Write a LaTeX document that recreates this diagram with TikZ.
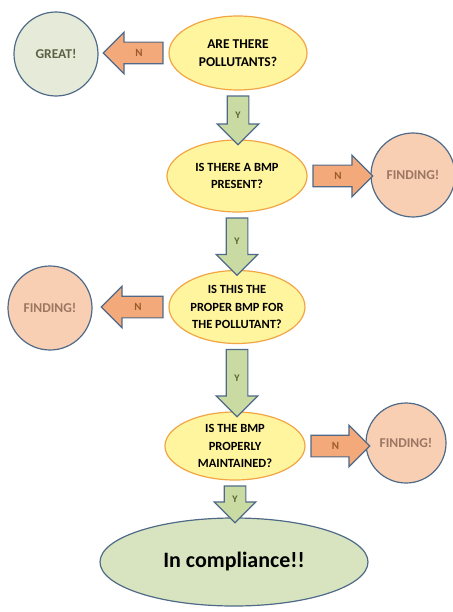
\documentclass[tikz,border=0pt]{standalone}
\usepackage{fontspec}
\setmainfont{Carlito}
\usetikzlibrary{positioning}
\usetikzlibrary{calc}
\usetikzlibrary{shapes.geometric}
\usetikzlibrary{shapes.arrows}

\definecolor{qfill}{HTML}{FFF59E}
\definecolor{qborder}{HTML}{F2A545}
\definecolor{outline}{HTML}{4F6A88}
\definecolor{greatfill}{HTML}{E5EBD8}
\definecolor{findfill}{HTML}{F8CFB3}
\definecolor{nfill}{HTML}{F4A97A}
\definecolor{yfill}{HTML}{C9DAA3}
\definecolor{donefill}{HTML}{D8E4BF}
\definecolor{greattext}{HTML}{5B6345}
\definecolor{findtext}{HTML}{9C7662}
\definecolor{ntext}{HTML}{9A5B2E}
\definecolor{ytext}{HTML}{55612F}

% block arrow from #2 to #3 with label #4
\newcommand{\blockarrow}[4]{%
  \path let \p1=($(#3)-(#2)$), \n1={veclen(\x1,\y1)}, \n2={mod(atan2(\y1,\x1)+360,360)} in
    (#2) -- node[#1, minimum height=\n1, shape border rotate=\n2] {#4} (#3);
}

\begin{document}
\begin{tikzpicture}[x=1pt,y=-1pt]

\tikzset{
    question/.style={ellipse,draw=qborder,fill=qfill,line width=1.2pt,inner sep=0pt,
        align=center,font=\fontsize{12.5}{17.5}\selectfont\bfseries},
    endcircle/.style={circle,draw=outline,line width=1.2pt,minimum size=84pt,inner sep=0pt,
        font=\fontsize{13.5}{15}\selectfont\bfseries},
    arrowbox/.style={single arrow,draw=outline,line width=1.2pt,inner sep=7pt,
        text width=6.5pt,text height=6.5pt,text depth=0pt,align=center,
        single arrow head extend=10pt,single arrow tip angle=90},
    noarrow/.style={arrowbox,fill=nfill,text=ntext,font=\fontsize{11}{11}\selectfont\bfseries},
    yesarrow/.style={arrowbox,fill=yfill,text=ytext,font=\fontsize{10}{10}\selectfont\bfseries}
}
\useasboundingbox (0,0) rectangle (452,612);

% ----------- questions ----------- %
\node[question,minimum width=138pt,minimum height=74pt,font=\fontsize{13.5}{18}\selectfont\bfseries]
    (q1) at (238,53) {ARE THERE\\POLLUTANTS?};
\node[question,minimum width=140pt,minimum height=72pt] (q2) at (237,176) {IS THERE A BMP\\PRESENT?};
\node[question,minimum width=136pt,minimum height=73pt] (q3) at (237,307) {IS THIS THE\\PROPER BMP FOR\\THE POLLUTANT?};
\node[question,minimum width=140pt,minimum height=68pt] (q4) at (235,446) {IS THE BMP\\PROPERLY\\MAINTAINED?};

% ----------- outcomes ----------- %
\node[endcircle,fill=greatfill,text=greattext] (great) at (56,54) {GREAT!};
\node[endcircle,fill=findfill,text=findtext] (find1) at (413,175) {FINDING!};
\node[endcircle,fill=findfill,text=findtext] (find2) at (50,308) {FINDING!};
\node[endcircle,fill=findfill,text=findtext,minimum size=80pt] (find3) at (406,443) {FINDING!};
\node[ellipse,draw=outline,fill=donefill,line width=1.2pt,minimum width=268pt,minimum height=88pt,
    font=\fontsize{22}{24}\selectfont\bfseries] (done) at (234,562) {In compliance!!};

% N arrows
\blockarrow{noarrow}{q1.west}{$(q1.west -| great.east)+(10,0)$}{N}
\blockarrow{noarrow}{q2.east}{$(q2.east -| find1.west)+(-3,0)$}{N}
\blockarrow{noarrow}{q3.west}{$(q3.west -| find2.east)+(14,0)$}{N}
\blockarrow{noarrow}{q4.east}{$(q4.east -| find3.west)+(-1,0)$}{N}

% Y arrows
\blockarrow{yesarrow}{q1.south}{q1.south |- q2.north}{Y}
\blockarrow{yesarrow}{q2.south}{q2.south |- q3.north}{Y}
\blockarrow{yesarrow}{q3.south}{q3.south |- q4.north}{Y}
\blockarrow{yesarrow}{q4.south}{q4.south |- done.north}{Y}

\end{tikzpicture}
\end{document}
